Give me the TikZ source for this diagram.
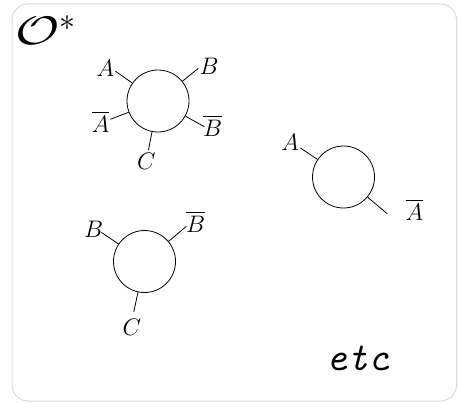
\RequirePackage{fix-cm}
\documentclass[tikz,border=0pt]{standalone}
\usepackage{amsmath,amssymb,graphicx}
\usetikzlibrary{calc}
\definecolor{framegray}{RGB}{218,218,218}
\tikzset{
  blob/.style={draw,circle,minimum size=62bp,inner sep=0pt,line width=0.8bp},
  leg/.style={line width=0.8bp},
  lab/.style={inner sep=0pt,font=\fontsize{24}{28}\selectfont},
}

\begin{document}
\begin{tikzpicture}[x=1bp,y=1bp]
  \useasboundingbox (0,0) rectangle (458,403);
  % frame
  \draw[framegray,line width=1bp,rounded corners=16bp] (12,2) rectangle (456.5,399);
  \node[anchor=base west,inner sep=0pt,font=\fontsize{40}{44}\selectfont] (title) at (15,359) {$\scalebox{1.35}[1]{$\mathcal{O}$}$\raisebox{13.5bp}{\fontsize{32}{34}\selectfont$\ast$}};
  % vertex with five legs
  \node[blob] (v1) at (158,302) {};
  \foreach \a/\d/\la/\ld/\txt [count=\i] in {145/52/148/62/A, 39/52/34.5/62/B, 201/51/199.6/61/\overline{A}, 331/53/335.6/60/\overline{B}, 259/50/259/61.6/C}{
    \coordinate (v1e\i) at ($(v1)+(\a:\d)$);
    \node[lab] (v1l\i) at ($(v1)+(\la:\ld)$) {$\txt$};
    \draw[leg] (v1.\a) -- (v1e\i);
  }
  % vertex with two legs
  \node[blob] (v2) at (343.5,226) {};
  \foreach \a/\d/\la/\ld/\txt [count=\i] in {146/52/147/63.7/A, 320/57/335/78.3/\overline{A}}{
    \coordinate (v2e\i) at ($(v2)+(\a:\d)$);
    \node[lab] (v2l\i) at ($(v2)+(\la:\ld)$) {$\txt$};
    \draw[leg] (v2.\a) -- (v2e\i);
  }
  % vertex with three legs
  \node[blob] (v3) at (144.5,141.5) {};
  \foreach \a/\d/\la/\ld/\txt [count=\i] in {146/52/148/60/B, 40/54.7/38/65/\overline{B}, 258/51.6/259/66.7/C}{
    \coordinate (v3e\i) at ($(v3)+(\a:\d)$);
    \node[lab] (v3l\i) at ($(v3)+(\la:\ld)$) {$\txt$};
    \draw[leg] (v3.\a) -- (v3e\i);
  }
  % etc
  \node[anchor=base,inner sep=0pt,font=\fontsize{40}{44}\selectfont\ttfamily\itshape] (etc) at (358,33) {etc};
\end{tikzpicture}
\end{document}
